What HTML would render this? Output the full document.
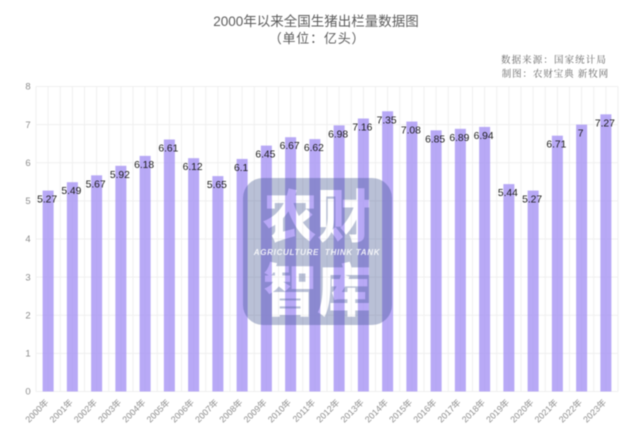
<!DOCTYPE html>
<html>
<head>
<meta charset="utf-8">
<style>
html,body{margin:0;padding:0;background:#fff;width:640px;height:435px;overflow:hidden}
svg{display:block;filter:blur(0.45px)}
text{font-family:"Liberation Sans","Noto Sans CJK SC",sans-serif}
</style>
</head>
<body>
<svg id="chart" width="640" height="435" viewBox="0 0 640 435" xmlns="http://www.w3.org/2000/svg">
  <defs>
    <mask id="wm-mask">
      <rect x="240" y="175" width="155" height="155" fill="#fff"/>
      <text x="317" y="237" text-anchor="middle" font-size="57" font-weight="900" fill="#000" textLength="108" lengthAdjust="spacingAndGlyphs">农财</text>
      <text x="317" y="311" text-anchor="middle" font-size="57" font-weight="900" fill="#000" textLength="108" lengthAdjust="spacingAndGlyphs">智库</text>
    </mask>
  </defs>
  <rect width="640" height="435" fill="#fff"/>
  <text x="316" y="26" text-anchor="middle" font-size="13.5" fill="#5c5c5c">2000年以来全国生猪出栏量数据图</text>
  <text x="317" y="43" text-anchor="middle" font-size="13" letter-spacing="0.8" fill="#5c5c5c">（单位：亿头）</text>
  <text x="607" y="63" text-anchor="end" font-size="9.5" letter-spacing="1.1" fill="#666" style="font-family:'Liberation Serif','Noto Serif CJK SC',serif">数据来源：国家统计局</text>
  <text x="609" y="77" text-anchor="end" font-size="9.5" letter-spacing="0.9" fill="#666" style="font-family:'Liberation Serif','Noto Serif CJK SC',serif">制图：农财宝典 新牧网</text>
  <g id="grid"></g>
  <g id="bars"></g>
  <g id="axis"></g>
  <g>
    <rect x="243" y="178" width="149" height="147" rx="20" fill="rgb(62,80,140)" fill-opacity="0.36" mask="url(#wm-mask)"/>
    <text x="317" y="255" text-anchor="middle" font-size="8" font-weight="700" font-style="italic" fill="#fff" fill-opacity="0.85" letter-spacing="0.7" xml:space="preserve">AGRICULTURE  THINK TANK</text>
  </g>
  <g id="labels"></g>
</svg>
<script>
var categories = ["2000年","2001年","2002年","2003年","2004年","2005年","2006年","2007年","2008年","2009年","2010年","2011年","2012年","2013年","2014年","2015年","2016年","2017年","2018年","2019年","2020年","2021年","2022年","2023年"];
var outputValues = [5.27,5.49,5.67,5.92,6.18,6.61,6.12,5.65,6.1,6.45,6.67,6.62,6.98,7.16,7.35,7.08,6.85,6.89,6.94,5.44,5.27,6.71,7,7.27];
var yTicks = [0,1,2,3,4,5,6,7,8];

var NS = "http://www.w3.org/2000/svg";
var plot = {left: 36, right: 618, top: 86.5, bottom: 391.5};
var yMax = yTicks[yTicks.length - 1];
function bandWidth() { return (plot.right - plot.left) / categories.length; }
function xScale(i) { return plot.left + bandWidth() * (i + 0.5); }
function yScale(v) { return plot.bottom - (v / yMax) * (plot.bottom - plot.top); }
function make(tag, attrs, parent, text) {
  var el = document.createElementNS(NS, tag);
  for (var k in attrs) el.setAttribute(k, attrs[k]);
  if (text !== undefined) el.textContent = text;
  parent.appendChild(el);
  return el;
}
var grid = document.getElementById("grid");
var bars = document.getElementById("bars");
var axis = document.getElementById("axis");
var labels = document.getElementById("labels");

yTicks.forEach(function (t) {
  var line = make("line", {x1: plot.left, x2: plot.right, y1: yScale(t), y2: yScale(t), stroke: "#efefef", "stroke-width": 1}, grid);
  
  
  var tick = make("text", {x: 28, y: yScale(t) + 3.2, "text-anchor": "middle", "font-size": 9.5, fill: "#8c8c8c"}, axis, String(t));
  
  
});
for (var g = 0; g <= categories.length * 2; g++) {
  var gx = plot.left + bandWidth() * g / 2;
  var vline = make("line", {x1: gx, x2: gx, y1: plot.top, y2: plot.bottom, stroke: "#f0f0f0", "stroke-width": 1}, grid);
  
  
}
categories.forEach(function (c, i) {
  var v = outputValues[i];
  var cx = xScale(i);
  var bar = make("rect", {x: cx - 5.5, y: yScale(v), width: 11, height: plot.bottom - yScale(v), fill: "#a491f3", "fill-opacity": 0.78}, bars);
  
  
  var tl = make("text", {x: cx + 1, y: 403, "text-anchor": "end", "font-size": 8.8, fill: "#8c8c8c", transform: "rotate(-45 " + (cx + 1) + " 403)"}, axis, c);
  
  
  var lab = make("text", {x: cx - 1, y: yScale(v) + 12, "text-anchor": "middle", "font-size": 10.3, fill: "#1a1a1a"}, labels, String(v));
  
  
});
</script>
</body>
</html>
